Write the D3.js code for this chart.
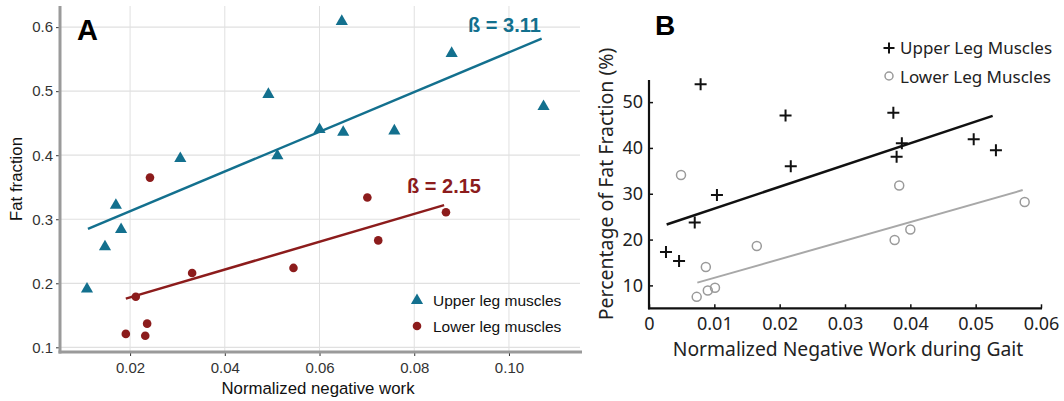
<!DOCTYPE html>
<html><head><meta charset="utf-8">
<script src="https://cdn.jsdelivr.net/npm/d3@7"></script>
<style>html,body{margin:0;padding:0;background:#fff;}svg{display:block;}</style>
</head><body>
<svg id="c" width="1064" height="401"></svg>
<script>
// ---------- Panel A data ----------
const upperA_x = [0.0109,0.0147,0.0170,0.0181,0.0306,0.0492,0.0511,0.0600,0.0647,0.0650,0.0758,0.0879,0.1073];
const upperA_y = [0.191,0.257,0.322,0.284,0.395,0.495,0.399,0.440,0.609,0.436,0.438,0.559,0.476];
const lowerA_x = [0.0242,0.0191,0.0232,0.0236,0.0212,0.0331,0.0545,0.0701,0.0724,0.0867];
const lowerA_y = [0.365,0.121,0.118,0.137,0.179,0.216,0.224,0.334,0.267,0.311];
const fitUpperA = [[0.0111,0.285],[0.1069,0.582]];
const fitLowerA = [[0.0191,0.176],[0.0863,0.322]];
const xTicksA = [0.02,0.04,0.06,0.08,0.10];
const yTicksA = [0.1,0.2,0.3,0.4,0.5,0.6];
const xTickLabelsA = ["0.02","0.04","0.06","0.08","0.10"];
const yTickLabelsA = ["0.1","0.2","0.3","0.4","0.5","0.6"];
const legendA = ["Upper leg muscles","Lower leg muscles"];
const betaA = ["ß = 3.11","ß = 2.15"];

// ---------- Panel B data ----------
const upperB_x = [0.0079,0.0209,0.0374,0.0387,0.0379,0.0497,0.0531,0.0217,0.0104,0.0070,0.0026,0.0046];
const upperB_y = [53.9,47.1,47.7,41.0,38.1,41.9,39.5,36.0,29.7,23.7,17.3,15.3];
const lowerB_x = [0.0049,0.0383,0.0575,0.0165,0.0376,0.0400,0.0087,0.0073,0.0090,0.0101];
const lowerB_y = [34.1,31.8,28.2,18.6,19.9,22.2,14.0,7.5,8.9,9.5];
const fitUpperB = [[0.0027,23.3],[0.0526,47.0]];
const fitLowerB = [[0.0074,10.6],[0.0572,30.8]];
const xTicksB = [0,0.01,0.02,0.03,0.04,0.05,0.06];
const xTickLabelsB = ["0","0.01","0.02","0.03","0.04","0.05","0.06"];
const yTicksB = [10,20,30,40,50];
const yTickLabelsB = ["10","20","30","40","50"];
const legendB = ["Upper Leg Muscles","Lower Leg Muscles"];

const svg = d3.select("#c");
const BLUE = "#13708e", RED = "#8c1c1c";

// ================= Panel A =================
const A = {l:60, r:580, t:6, b:352};
const xA = d3.scaleLinear().domain([0.0052,0.115]).range([A.l, A.r]);
const yA = d3.scaleLinear().domain([0.0927,0.633]).range([A.b, A.t]);
const gA = svg.append("g");
gA.selectAll(".gv").data(xTicksA).join("line")
  .attr("x1",d=>xA(d)).attr("x2",d=>xA(d)).attr("y1",A.t).attr("y2",A.b)
  .attr("stroke","#e0e0e0").attr("stroke-width",1);
gA.selectAll(".gh").data(yTicksA).join("line")
  .attr("x1",A.l).attr("x2",A.r).attr("y1",d=>yA(d)).attr("y2",d=>yA(d))
  .attr("stroke","#e0e0e0").attr("stroke-width",1.2);
const axA_x = d3.axisBottom(xA).tickValues(xTicksA).tickFormat((d,i)=>xTickLabelsA[i]).tickSize(4).tickPadding(3);
const axA_y = d3.axisLeft(yA).tickValues(yTicksA).tickFormat((d,i)=>yTickLabelsA[i]).tickSize(4).tickPadding(3);
const gxA = gA.append("g").attr("transform",`translate(0,${A.b})`).call(axA_x);
const gyA = gA.append("g").attr("transform",`translate(${A.l},0)`).call(axA_y);
[gxA,gyA].forEach(g=>{
  g.select(".domain").remove();
  g.selectAll(".tick line").attr("stroke","#333").attr("stroke-width",1);
  g.selectAll(".tick text").attr("fill","#333").attr("font-family","Liberation Sans, Arial, sans-serif").attr("font-size",15);
});
gxA.selectAll(".tick text").attr("dy","0.9em");
gA.append("line").attr("x1",A.l).attr("x2",A.l).attr("y1",A.t).attr("y2",A.b+1.5)
  .attr("stroke","#9a9a9a").attr("stroke-width",3);
gA.append("line").attr("x1",A.l-1.5).attr("x2",A.r+2).attr("y1",A.b).attr("y2",A.b)
  .attr("stroke","#9a9a9a").attr("stroke-width",3);
const lineA = d3.line().x(d=>xA(d[0])).y(d=>yA(d[1]));
gA.append("path").attr("d",lineA(fitUpperA)).attr("stroke",BLUE).attr("stroke-width",2.5).attr("fill","none");
gA.append("path").attr("d",lineA(fitLowerA)).attr("stroke",RED).attr("stroke-width",2.5).attr("fill","none");
const tri = d3.symbol().type(d3.symbolTriangle).size(64);
gA.selectAll(".up").data(upperA_x.map((x,i)=>[x,upperA_y[i]])).join("path")
  .attr("d",tri).attr("transform",d=>`translate(${xA(d[0])},${yA(d[1])})`).attr("fill",BLUE);
gA.selectAll(".lo").data(lowerA_x.map((x,i)=>[x,lowerA_y[i]])).join("circle")
  .attr("cx",d=>xA(d[0])).attr("cy",d=>yA(d[1])).attr("r",4.3).attr("fill",RED);
const fA = "Liberation Sans, Arial, sans-serif";
gA.append("text").attr("x",77).attr("y",39.5).text("A").attr("font-family",fA).attr("font-weight","bold").attr("font-size",29).attr("fill","#000");
gA.append("text").attr("x",468).attr("y",31.5).text(betaA[0]).attr("font-family",fA).attr("font-weight","bold").attr("font-size",20).attr("fill",BLUE);
gA.append("text").attr("x",407).attr("y",192.5).text(betaA[1]).attr("font-family",fA).attr("font-weight","bold").attr("font-size",20).attr("fill",RED);
gA.append("text").attr("x",318).attr("y",394).attr("text-anchor","middle").text("Normalized negative work")
  .attr("font-family",fA).attr("font-size",16.8).attr("fill","#111");
gA.append("text").attr("transform","translate(22,179) rotate(-90)").attr("text-anchor","middle").text("Fat fraction")
  .attr("font-family",fA).attr("font-size",16.8).attr("fill","#111");
gA.append("path").attr("d",tri).attr("transform","translate(417,300.5)").attr("fill",BLUE);
gA.append("circle").attr("cx",417).attr("cy",326).attr("r",4.3).attr("fill",RED);
gA.selectAll(".lt").data(legendA).join("text").attr("x",433).attr("y",(d,i)=>305.5+i*26).text(d=>d)
  .attr("font-family",fA).attr("font-size",15.5).attr("fill","#111");

// ================= Panel B =================
const B = {l:649, r:1041, t:80, b:308.3};
const xB = d3.scaleLinear().domain([0,0.06]).range([B.l,B.r]);
const yB = d3.scaleLinear().domain([5,55]).range([B.b,79.2]);
const gB = svg.append("g");
const fB = "Noto Sans, Open Sans, sans-serif";
const axB_x = d3.axisBottom(xB).tickValues(xTicksB).tickFormat((d,i)=>xTickLabelsB[i]).tickSize(-4).tickPadding(9);
const axB_y = d3.axisLeft(yB).tickValues(yTicksB).tickFormat((d,i)=>yTickLabelsB[i]).tickSize(-4).tickPadding(6);
const gxB = gB.append("g").attr("transform",`translate(0,${B.b})`).call(axB_x);
const gyB = gB.append("g").attr("transform",`translate(${B.l},0)`).call(axB_y);
[gxB,gyB].forEach(g=>{
  g.select(".domain").remove();
  g.selectAll(".tick line").attr("stroke","#111").attr("stroke-width",1.5);
  g.selectAll(".tick text").attr("fill","#222").attr("font-family",fB).attr("font-size",18);
});
gB.append("line").attr("x1",B.l).attr("x2",B.l).attr("y1",B.t).attr("y2",B.b+1).attr("stroke","#111").attr("stroke-width",2.2);
gB.append("line").attr("x1",B.l-1).attr("x2",B.r+1).attr("y1",B.b).attr("y2",B.b).attr("stroke","#111").attr("stroke-width",2.2);
const lineB = d3.line().x(d=>xB(d[0])).y(d=>yB(d[1]));
gB.append("path").attr("d",lineB(fitUpperB)).attr("stroke","#111").attr("stroke-width",2.5).attr("fill","none");
gB.append("path").attr("d",lineB(fitLowerB)).attr("stroke","#a8a8a8").attr("stroke-width",2).attr("fill","none");
const plusPath = "M-6,0H6M0,-6V6";
gB.selectAll(".pu").data(upperB_x.map((x,i)=>[x,upperB_y[i]])).join("path")
  .attr("d",plusPath).attr("transform",d=>`translate(${xB(d[0])},${yB(d[1])})`).attr("stroke","#111").attr("stroke-width",2).attr("fill","none");
gB.selectAll(".pl").data(lowerB_x.map((x,i)=>[x,lowerB_y[i]])).join("circle")
  .attr("cx",d=>xB(d[0])).attr("cy",d=>yB(d[1])).attr("r",4.5).attr("fill","none").attr("stroke","#9a9a9a").attr("stroke-width",1.5);
gB.append("text").attr("x",655).attr("y",35).text("B").attr("font-family",fA).attr("font-weight","bold").attr("font-size",28).attr("fill","#000");
gB.append("text").attr("x",848).attr("y",356).attr("text-anchor","middle").text("Normalized Negative Work during Gait")
  .attr("font-family",fB).attr("font-size",19.3).attr("fill","#222");
gB.append("text").attr("transform","translate(613,184) rotate(-90)").attr("text-anchor","middle").text("Percentage of Fat Fraction (%)")
  .attr("font-family",fB).attr("font-size",19.5).attr("fill","#222");
gB.append("path").attr("d","M-5.5,0H5.5M0,-5.5V5.5").attr("transform","translate(889,48)").attr("stroke","#111").attr("stroke-width",2);
gB.append("circle").attr("cx",889).attr("cy",76).attr("r",4).attr("fill","none").attr("stroke","#9a9a9a").attr("stroke-width",1.5);
gB.selectAll(".lb").data(legendB).join("text").attr("x",900).attr("y",(d,i)=>54+i*28.5).text(d=>d)
  .attr("font-family",fB).attr("font-size",17).attr("fill","#222");
</script>
</body></html>
